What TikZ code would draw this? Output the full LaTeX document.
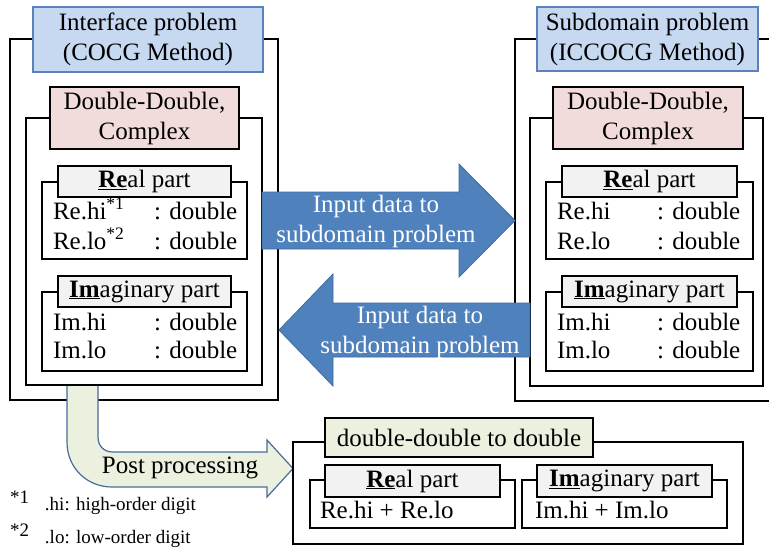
\documentclass[tikz,border=0pt]{standalone}
\usepackage{fontspec}
\setmainfont{Liberation Serif}
\definecolor{tblue}{HTML}{C6D9F1}
\definecolor{tborder}{HTML}{5B82BA}
\definecolor{pinkf}{HTML}{F2DCDB}
\definecolor{grayf}{HTML}{F2F2F2}
\definecolor{greenf}{HTML}{EBF1DE}
\definecolor{arrowf}{HTML}{4F81BD}
\definecolor{arrowd}{HTML}{3D6BA6}
\definecolor{postd}{HTML}{4A6A9C}
\begin{document}
\begin{tikzpicture}[x=1pt,y=-1pt,
  every node/.style={inner sep=0pt, outer sep=0pt, font=\fontsize{25}{30}\selectfont},
  frame/.style={draw=black, line width=1.6pt, fill=white},
  titlebox/.style={draw=tborder, line width=1.6pt, fill=tblue, align=center},
  pinkbox/.style={draw=black, line width=1.6pt, fill=pinkf, align=center},
  hdr/.style={draw=black, line width=1.6pt, fill=grayf},
  ghdr/.style={draw=black, line width=1.6pt, fill=greenf},
  txt/.style={anchor=base west},
  foot/.style={anchor=west, font=\fontsize{19}{22}\selectfont},
  bluearrow/.style={fill=arrowf, draw=arrowd, line width=0.8pt},
  postarrow/.style={fill=greenf, draw=postd, line width=1.2pt},
  wtxt/.style={text=white, align=center}
]
\useasboundingbox (0,0) rectangle (769,550);
% ---------- left block ----------
\node[frame, minimum width=268pt, minimum height=361pt] (outerL) at (144,219.5) {};
\node[titlebox, minimum width=230pt, minimum height=65pt] (titleL) at (148,39.5) {Interface problem\\(COCG Method)};
\node[frame, minimum width=236pt, minimum height=267pt] (innerL) at (144,251.5) {};
\node[pinkbox, minimum width=189pt, minimum height=62pt] (pinkL) at (144.5,118) {Double-Double,\\Complex};
\node[frame, minimum width=205pt, minimum height=77pt] (reL) at (144.5,220.5) {};
\node[hdr, minimum width=173pt, minimum height=31pt] (reLh) at (144.5,181.5) {\underline{\textbf{Re}}al part};
\node[txt] (reLa) at (53,219) {Re.hi\textsuperscript{*1}};
\node[txt] (reLb) at (154,219) {: double};
\node[txt] (reLc) at (53,249) {Re.lo\textsuperscript{*2}};
\node[txt] (reLd) at (154,249) {: double};
\node[frame, minimum width=205pt, minimum height=79pt] (imL) at (144.5,331.5) {};
\node[hdr, minimum width=173pt, minimum height=31pt] (imLh) at (144.5,291.5) {\underline{\textbf{Im}}aginary part};
\node[txt] (imLa) at (53,330) {Im.hi};
\node[txt] (imLb) at (154,330) {: double};
\node[txt] (imLc) at (53,358) {Im.lo};
\node[txt] (imLd) at (154,358) {: double};
% ---------- right block ----------
\node[frame, minimum width=265pt, minimum height=362pt] (outerR) at (647.5,220) {};
\node[titlebox, minimum width=221pt, minimum height=64pt] (titleR) at (647.5,39) {Subdomain problem\\(ICCOCG Method)};
\node[frame, minimum width=233pt, minimum height=268pt] (innerR) at (646.5,252) {};
\node[pinkbox, minimum width=190pt, minimum height=62pt] (pinkR) at (648,118) {Double-Double,\\Complex};
\node[frame, minimum width=207pt, minimum height=77pt] (reR) at (649.5,220.5) {};
\node[hdr, minimum width=175pt, minimum height=31pt] (reRh) at (649.5,181.5) {\underline{\textbf{Re}}al part};
\node[txt] (reRa) at (557,219) {Re.hi};
\node[txt] (reRb) at (657,219) {: double};
\node[txt] (reRc) at (557,249) {Re.lo};
\node[txt] (reRd) at (657,249) {: double};
\node[frame, minimum width=207pt, minimum height=79pt] (imR) at (649.5,331.5) {};
\node[hdr, minimum width=175pt, minimum height=31pt] (imRh) at (649.5,291.5) {\underline{\textbf{Im}}aginary part};
\node[txt] (imRa) at (557,330) {Im.hi};
\node[txt] (imRb) at (657,330) {: double};
\node[txt] (imRc) at (557,358) {Im.lo};
\node[txt] (imRd) at (657,358) {: double};
% ---------- blue arrows ----------
\draw[bluearrow] (262,192) -- (459,192) -- (459,164) -- (515,220.5) -- (459,277) -- (459,249) -- (262,249) -- cycle;
\node[wtxt] (arrR) at (376,221) {Input data to\\subdomain problem};
\draw[bluearrow] (530,303) -- (333,303) -- (333,274) -- (279,330) -- (333,386) -- (333,357) -- (530,357) -- cycle;
\node[wtxt] (arrL) at (420,332) {Input data to\\subdomain problem};
% ---------- post processing arrow ----------
\fill[greenf] (67,386) -- (67,442) .. controls (67,468) and (87,487) .. (112,487) -- (267,487) -- (267,497) -- (293,468.5) -- (267,440) -- (267,452) -- (113,452) .. controls (104,452) and (98,446) .. (98,437) -- (98,386) -- cycle;
\draw[postarrow] (67,386) -- (67,442) .. controls (67,468) and (87,487) .. (112,487) -- (267,487) -- (267,497) -- (293,468.5) -- (267,440) -- (267,452) -- (113,452) .. controls (104,452) and (98,446) .. (98,437) -- (98,386);
\node (post) at (180,468) {Post processing};
% ---------- bottom block ----------
\node[frame, minimum width=450pt, minimum height=102pt] (outerB) at (518,493) {};
\node[ghdr, minimum width=268pt, minimum height=39pt] (headB) at (459,437.5) {double-double to double};
\node[frame, minimum width=205pt, minimum height=48pt] (reB) at (412.5,504) {};
\node[hdr, minimum width=175pt, minimum height=32pt] (reBh) at (412.5,481) {\underline{\textbf{Re}}al part};
\node[txt] (reBt) at (320,518) {Re.hi + Re.lo};
\node[frame, minimum width=205pt, minimum height=48pt] (imB) at (624.5,504) {};
\node[hdr, minimum width=175pt, minimum height=32pt] (imBh) at (624.5,481) {\underline{\textbf{Im}}aginary part};
\node[txt] (imBt) at (535,518) {Im.hi + Im.lo};
% ---------- footnotes ----------
\node[foot] (f1a) at (10,497) {*1};
\node[foot] (f1b) at (45,506) {.hi: high-order digit};
\node[foot] (f2a) at (10,530) {*2};
\node[foot] (f2b) at (45,539) {.lo: low-order digit};
\end{tikzpicture}
\end{document}
